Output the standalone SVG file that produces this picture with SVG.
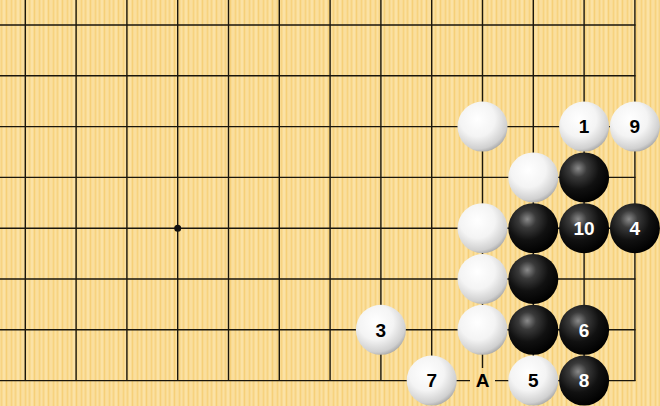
<svg xmlns="http://www.w3.org/2000/svg" width="660" height="406" viewBox="0 0 660 406">
<defs>
<pattern id="wood" x="0" y="0" width="14" height="406" patternUnits="userSpaceOnUse">
<rect width="14" height="406" fill="#F9DB92"/>
<rect x="1" width="1" height="406" fill="#F7D383"/>
<rect x="3" width="2" height="406" fill="#FBE2A6"/>
<rect x="6" width="1" height="406" fill="#F6CF78"/>
<rect x="8" width="2" height="406" fill="#FADE9E"/>
<rect x="11" width="1" height="406" fill="#F7D27F"/>
<rect x="13" width="1" height="406" fill="#FBE0A2"/>
</pattern>
<radialGradient id="wg" cx="0.4" cy="0.35" r="0.7">
<stop offset="0" stop-color="#FFFFFF"/>
<stop offset="0.5" stop-color="#F4F4F4"/>
<stop offset="0.85" stop-color="#D0D0D0"/>
<stop offset="1" stop-color="#A0A0A0"/>
</radialGradient>
<radialGradient id="bg" cx="0.38" cy="0.32" r="0.7">
<stop offset="0" stop-color="#8A8A8A"/>
<stop offset="0.25" stop-color="#3A3A3A"/>
<stop offset="0.6" stop-color="#111111"/>
<stop offset="1" stop-color="#000000"/>
</radialGradient>
<style>
.ln{stroke:#1A160C;stroke-width:1.4;fill:none}
.w{fill:url(#wg)}
.b{fill:url(#bg)}
.t{font-family:"Liberation Sans",Arial,sans-serif;font-weight:bold;font-size:19px;text-anchor:middle}
.tw{fill:#000}
.tb{fill:#fff}
</style>
</defs>
<rect width="660" height="406" fill="url(#wood)"/>
<g id="grid" class="ln">
<path d="M25.3 0V381M76.1 0V381M126.9 0V381M177.7 0V381M228.5 0V381M279.3 0V381M330.1 0V381M380.9 0V381M431.7 0V381M482.5 0V381M533.3 0V381M584.1 0V381M634.9 0V381"/>
<path d="M0 25H635.5M0 75.8H635.5M0 126.6H635.5M0 177.4H635.5M0 228.2H635.5M0 279H635.5M0 329.8H635.5M0 380.6H635.5"/>
</g>
<circle id="star" cx="177.7" cy="228.2" r="3.5" fill="#111"/>
<g id="connectors"/>
<g id="s-w1"><circle class="w" cx="482.5" cy="126.6" r="25"/></g>
<g id="s-1"><circle class="w" cx="584.1" cy="126.6" r="25"/><text class="t tw" x="584.1" y="133.4">1</text></g>
<g id="s-9"><circle class="w" cx="634.9" cy="126.6" r="25"/><text class="t tw" x="634.9" y="133.4">9</text></g>
<g id="s-w2"><circle class="w" cx="533.3" cy="177.4" r="25"/></g>
<g id="s-b1"><circle class="b" cx="584.1" cy="177.4" r="25"/></g>
<g id="s-w3"><circle class="w" cx="482.5" cy="228.2" r="25"/></g>
<g id="s-b2"><circle class="b" cx="533.3" cy="228.2" r="25"/></g>
<g id="s-10"><circle class="b" cx="584.1" cy="228.2" r="25"/><text class="t tb" x="584.1" y="235">10</text></g>
<g id="s-4"><circle class="b" cx="634.9" cy="228.2" r="25"/><text class="t tb" x="634.9" y="235">4</text></g>
<g id="s-w4"><circle class="w" cx="482.5" cy="279" r="25"/></g>
<g id="s-b3"><circle class="b" cx="533.3" cy="279" r="25"/></g>
<g id="s-3"><circle class="w" cx="380.9" cy="329.8" r="25"/><text class="t tw" x="380.9" y="336.6">3</text></g>
<g id="s-w5"><circle class="w" cx="482.5" cy="329.8" r="25"/></g>
<g id="s-b4"><circle class="b" cx="533.3" cy="329.8" r="25"/></g>
<g id="s-6"><circle class="b" cx="584.1" cy="329.8" r="25"/><text class="t tb" x="584.1" y="336.6">6</text></g>
<g id="s-7"><circle class="w" cx="431.7" cy="380.6" r="25"/><text class="t tw" x="431.7" y="387.4">7</text></g>
<g id="m-A"><rect x="470" y="368" width="25" height="26" fill="url(#wood)"/><text class="t tw" x="482.5" y="387.4">A</text></g>
<g id="s-5"><circle class="w" cx="533.3" cy="380.6" r="25"/><text class="t tw" x="533.3" y="387.4">5</text></g>
<g id="s-8"><circle class="b" cx="584.1" cy="380.6" r="25"/><text class="t tb" x="584.1" y="387.4">8</text></g>
</svg>
